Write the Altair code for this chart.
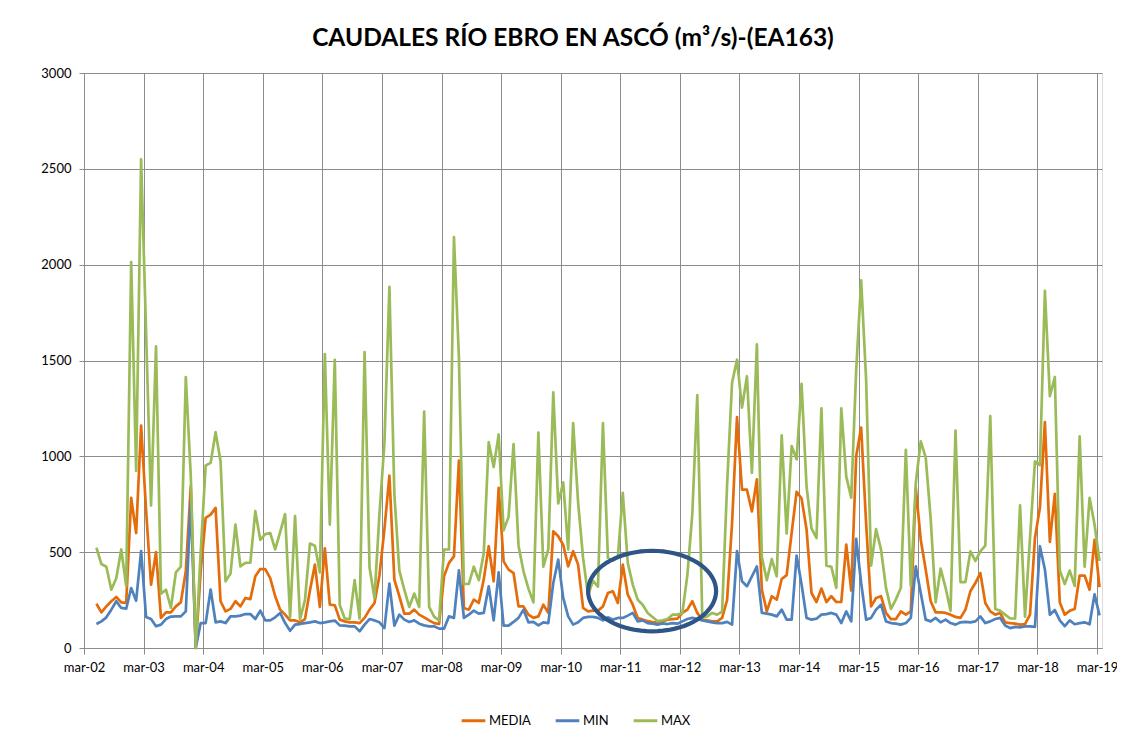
import math
import altair as alt
import pandas as pd

# ---------------- data ----------------
series_names = ["MEDIA", "MIN", "MAX"]
series_colors = ["#E46C0A", "#4F81BD", "#9BBB59"]
year_ticks = list(range(0, 205, 12))   # months since mar-02, one tick per year
first_month = 2.5                       # first monthly value (mid May 2002)

media = [231, 186, 217, 244, 266, 238, 235, 783, 600, 1160,
         720, 330, 500, 157, 186, 186, 217, 238, 400, 844,
         0, 400, 679, 696, 731, 244, 191, 204, 244, 217,
         261, 255, 374, 412, 412, 365, 270, 200, 174, 144,
         144, 134, 151, 300, 435, 214, 520, 226, 223, 148,
         139, 134, 134, 130, 157, 200, 235, 380, 620, 900,
         357, 270, 179, 179, 200, 174, 160, 144, 130, 125,
         374, 444, 478, 978, 209, 200, 252, 235, 357, 531,
         348, 835, 452, 409, 391, 217, 217, 174, 157, 165,
         226, 183, 609, 583, 539, 426, 505, 435, 209, 191,
         195, 195, 217, 287, 296, 235, 435, 278, 226, 157,
         148, 140, 135, 132, 135, 148, 151, 153, 183, 200,
         244, 183, 148, 144, 139, 139, 157, 250, 650, 1205,
         826, 826, 713, 880, 305, 191, 270, 252, 360, 380,
         600, 815, 780, 620, 287, 240, 310, 240, 270, 240,
         240, 540, 300, 1000, 1150, 650, 217, 261, 270, 183,
         151, 151, 191, 174, 191, 835, 565, 409, 244, 186,
         186, 183, 174, 162, 157, 200, 296, 339, 391, 235,
         191, 174, 183, 134, 130, 127, 122, 125, 174, 574,
         734, 1178, 554, 804, 238, 174, 194, 204, 378, 378,
         304, 564, 318]

minimo = [125, 139, 160, 200, 244, 209, 205, 313, 247, 505,
          162, 151, 113, 122, 151, 164, 165, 165, 191, 770,
          0, 130, 130, 305, 134, 139, 130, 165, 165, 169,
          177, 177, 151, 195, 144, 144, 160, 183, 130, 90,
          122, 125, 130, 134, 139, 130, 134, 139, 143, 118,
          117, 113, 113, 87, 122, 151, 144, 134, 104, 336,
          117, 174, 148, 136, 144, 127, 118, 113, 113, 101,
          101, 165, 157, 405, 157, 174, 195, 179, 183, 322,
          144, 395, 117, 117, 136, 157, 200, 134, 136, 118,
          134, 130, 339, 461, 261, 165, 122, 134, 157, 162,
          162, 157, 144, 160, 148, 157, 157, 169, 183, 139,
          144, 130, 127, 122, 128, 125, 130, 127, 139, 151,
          157, 151, 144, 139, 134, 130, 130, 136, 122, 505,
          348, 322, 374, 426, 183, 179, 174, 165, 200, 148,
          148, 482, 331, 157, 148, 153, 174, 177, 183, 174,
          130, 191, 139, 569, 339, 148, 157, 200, 226, 139,
          130, 127, 122, 130, 157, 426, 287, 148, 139, 157,
          134, 148, 130, 122, 134, 136, 134, 139, 165, 130,
          139, 151, 157, 117, 104, 110, 108, 113, 113, 110,
          531, 410, 174, 198, 144, 114, 144, 124, 130, 134,
          124, 280, 170]

maximo = [524, 438, 424, 304, 364, 514, 324, 2014, 924, 2550,
          1650, 744, 1574, 284, 304, 210, 394, 424, 1414, 900,
          0, 500, 952, 966, 1126, 974, 348, 388, 644, 426,
          444, 445, 714, 564, 594, 600, 514, 604, 698, 160,
          688, 150, 250, 545, 534, 394, 1534, 644, 1504, 224,
          154, 150, 354, 154, 1544, 420, 260, 700, 1070, 1884,
          800, 404, 304, 214, 284, 214, 1234, 214, 164, 144,
          514, 514, 2144, 1514, 334, 334, 424, 354, 494, 1074,
          944, 1114, 614, 684, 1064, 534, 400, 310, 238, 1124,
          424, 514, 1334, 754, 864, 514, 1174, 760, 470, 276,
          350, 320, 1174, 470, 456, 470, 809, 444, 331, 252,
          226, 183, 162, 140, 145, 151, 174, 174, 183, 380,
          700, 1320, 160, 165, 183, 174, 190, 850, 1384, 1504,
          1254, 1418, 914, 1584, 474, 354, 464, 374, 1110, 598,
          1054, 984, 1378, 844, 624, 574, 1250, 430, 424, 314,
          1250, 894, 784, 1450, 1918, 1400, 430, 620, 514, 314,
          204, 254, 314, 1034, 324, 861, 1078, 994, 674, 238,
          414, 314, 194, 1134, 344, 344, 504, 454, 504, 534,
          1210, 204, 194, 174, 154, 154, 744, 164, 574, 974,
          954, 1864, 1314, 1414, 404, 334, 404, 324, 1104, 424,
          784, 644, 454]

# highlighted period (ellipse annotation): centre in data units
ellipse_mes = [114.4]
ellipse_caudal = [297]

# ---------------- build table ----------------
meses = [first_month + i for i in range(len(media))]
rows = []
for name, vals in zip(series_names, [media, minimo, maximo]):
    for m, v in zip(meses, vals):
        rows.append({"mes": m, "caudal": v, "serie": name})
df = pd.DataFrame(rows)

FONT = "Lato"
GRID = "#8C8C8C"

x_enc = alt.X(
    "mes:Q",
    scale=alt.Scale(domain=[0, 205], nice=False, zero=False),
    axis=alt.Axis(
        values=year_ticks,
        labelExpr="'mar-' + ((datum.value/12 + 2) < 10 ? '0' : '') + (datum.value/12 + 2)",
        title=None, grid=True, gridColor=GRID, gridWidth=1,
        domainColor=GRID, tickColor=GRID, tickSize=6,
        labelFont=FONT, labelFontSize=13, labelColor="#000000",
        labelPadding=7, labelFlush=False,
    ),
)
y_enc = alt.Y(
    "caudal:Q",
    scale=alt.Scale(domain=[0, 3000], nice=False),
    axis=alt.Axis(
        values=[0, 500, 1000, 1500, 2000, 2500, 3000],
        title=None, grid=True, gridColor=GRID, gridWidth=1,
        domainColor=GRID, tickColor=GRID, tickSize=5,
        labelFont=FONT, labelFontSize=13, labelColor="#000000",
        labelPadding=8, format="d",
    ),
)
color_enc = alt.Color(
    "serie:N",
    scale=alt.Scale(domain=series_names, range=series_colors),
    legend=alt.Legend(
        title=None, orient="none", direction="horizontal",
        legendX=376, legendY=634,
        symbolType="stroke", symbolStrokeWidth=3, symbolSize=560,
        labelFont=FONT, labelFontSize=13, labelColor="#000000",
        labelOffset=2, columnPadding=18,
    ),
)

base = alt.Chart(df)
lines = [
    base.transform_filter(alt.datum.serie == name)
    .mark_line(strokeWidth=2.7, strokeJoin="round")
    .encode(x=x_enc, y=y_enc, color=color_enc)
    for name in series_names
]

# ellipse outline as a custom symbol path (unit coordinates)
ratio = 83.0 / 132.0
pts = []
for k in range(73):
    a = 2 * math.pi * k / 72
    pts.append(f"{math.cos(a):.4f} {ratio * math.sin(a):.4f}")
ellipse_path = "M " + " L ".join(pts) + " Z"

ell_df = pd.DataFrame({"mes": ellipse_mes, "caudal": ellipse_caudal})
ellipse = alt.Chart(ell_df).mark_point(
    shape=ellipse_path, size=128 * 128, filled=False,
    stroke="#2F5486", strokeWidth=4.2, opacity=1,
).encode(x=alt.X("mes:Q"), y=alt.Y("caudal:Q"))

chart = alt.layer(*lines, ellipse).properties(
    width=1018, height=575,
    title=alt.TitleParams(
        text="CAUDALES RÍO EBRO EN ASCÓ (m³/s)-(EA163)",
        font=FONT, fontSize=24.5, fontWeight="bold", color="#000000",
        anchor="middle", dx=-20, dy=30, offset=27, baseline="alphabetic",
    ),
    autosize="none",
    padding={"left": 76, "top": 65, "right": 15, "bottom": 84},
).configure_view(stroke=None).configure(background="#FFFFFF")

chart.save("out.html", embed_options={"renderer": "svg", "actions": False})
